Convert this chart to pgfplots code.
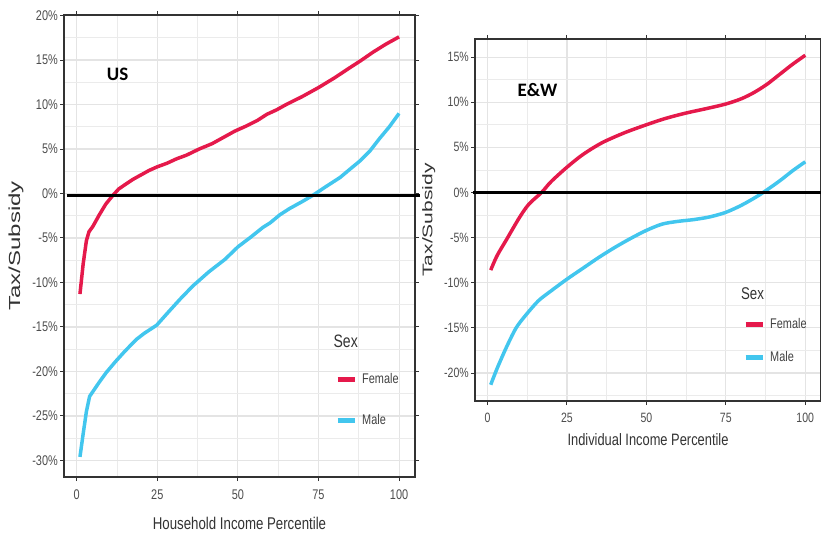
\documentclass[border=0pt]{standalone}
\usepackage{pgfplots}
\pgfplotsset{compat=1.18}
\usepackage{fontspec}
\setmainfont{Liberation Sans}[FakeStretch=0.78]
\newfontfamily\rotfont{Liberation Sans}[FakeStretch=1.5]
\newfontfamily\titfont{Carlito}
\definecolor{fem}{HTML}{E5194B}
\definecolor{mal}{HTML}{42C6EE}
\definecolor{gridc}{HTML}{E4E4E4}
\definecolor{tickc}{HTML}{4D4D4D}
\definecolor{framec}{HTML}{333333}

\pgfplotsset{
 panel/.style={
  scale only axis, anchor=south west, clip=false,
  axis line style={framec, line width=1.3pt},
  tick style={framec, line width=1pt},
  tick align=outside, major tick length=4pt, minor tick length=0pt,
  xmajorgrids, ymajorgrids, xminorgrids, yminorgrids,
  major grid style={gridc, line width=1.1pt},
  minor grid style={gridc!75, line width=0.7pt},
  xmin=-3.95, xmax=104.95, xtick={0,25,50,75,100}, minor xtick={12.5,37.5,62.5,87.5},
  /pgf/number format/assume math mode=true,
  ticklabel style={text=tickc, font=\fontsize{14}{16}\selectfont},
  yticklabel={\pgfmathprintnumber{\tick}\%},
  xticklabel style={inner sep=3pt, yshift=-6pt},
  yticklabel style={inner sep=2pt},
  legend image code/.code={\draw[#1, line width=5pt] (0pt,0pt) -- (17pt,0pt);},
  legend style={draw=none, fill=none, anchor=north west, inner sep=0pt,
     nodes={inner sep=0pt, text=black!75, font=\fontsize{14}{16}\selectfont}, column sep=5pt},
  legend cell align=left,
 }
}

\begin{document}
\begin{tikzpicture}
\path[use as bounding box] (0,0) rectangle (821pt,538pt);

% ---------------- US ----------------
\begin{axis}[panel, at={(64pt,61pt)}, width=351pt, height=462pt,
  ymin=-31.86, ymax=20.06, ytick={-30,-25,...,20}, minor ytick={-27.5,-22.5,...,17.5},
  xlabel={Household Income Percentile},
  xlabel style={at={(axis description cs:0.5,-0.0996)}, anchor=center, text=black!80, font=\fontsize{17}{18}\selectfont},
  ylabel={\rotfont Tax/Subsidy},
  ylabel style={at={(axis description cs:-0.137,0.5)}, anchor=center, text=black!80, font=\fontsize{16}{18}\selectfont},
  legend style={at={(axis description cs:0.772,0.2251)}, row sep=30pt}]
\addplot[fem, line width=3.5pt] coordinates {
(1,-11.3) (2,-7.9) (3,-5.3) (3.8,-4.3) (5,-3.7) (7,-2.4) (9,-1.2) (11,-0.3) (13,0.5) (15,1.0)
(17.5,1.6) (20,2.1) (22.5,2.6) (25,3.0) (28,3.4) (31,3.9) (34,4.3) (38,5.0) (42,5.6) (45.5,6.3)
(49,7.0) (52.7,7.6) (56,8.2) (59,8.9) (62,9.4) (65,10.0) (70,10.9) (75,11.9) (80,13.0) (85,14.2)
(88,14.9) (92,15.9) (96,16.8) (100,17.6)};
\addlegendentry{Female}
\addplot[mal, line width=3.5pt] coordinates {
(1,-29.6) (2,-27) (3,-24.5) (4,-22.8) (5.5,-22.0) (7,-21.2) (9.2,-20.1) (12,-18.9) (15,-17.7)
(18.5,-16.4) (21,-15.7) (24.8,-14.8) (28,-13.5) (32,-11.9) (36,-10.4) (41,-8.8) (46,-7.4)
(50,-6.0) (54,-4.9) (57.8,-3.8) (60,-3.3) (63,-2.4) (66,-1.7) (70,-0.9) (73.3,-0.2) (77,0.7)
(81.7,1.8) (85,2.8) (88,3.7) (91,4.8) (94,6.2) (97,7.5) (100,9.0)};
\addlegendentry{Male}
\addplot[black, line width=2.5pt, forget plot] coordinates {(-3.1,-0.22) (106.5,-0.22)};
\node[font=\titfont\bfseries\fontsize{19}{19}\selectfont] at (axis cs:12.7,13.4) {US};
\node[anchor=west, text=black!80, font=\fontsize{18}{18}\selectfont] at (axis cs:78.6,-16.6) {Sex};
\end{axis}

% ---------------- E&W ----------------
\begin{axis}[panel, at={(475pt,137pt)}, width=346pt, height=362pt,
  ymin=-23.1, ymax=17.0, ytick={-20,-15,...,15}, minor ytick={-22.5,-17.5,...,12.5},
  xlabel={Individual Income Percentile},
  xlabel style={at={(axis description cs:0.5,-0.1077)}, anchor=center, text=black!80, font=\fontsize{16.5}{18}\selectfont},
  ylabel={\rotfont Tax/Subsidy},
  ylabel style={at={(axis description cs:-0.134,0.5)}, anchor=center, text=black!80, font=\fontsize{14}{16}\selectfont},
  ticklabel style={font=\fontsize{13.5}{15}\selectfont},
  xticklabel style={yshift=1pt},
  legend style={at={(axis description cs:0.7746,0.2293)}, row sep=22pt}]
\addplot[fem, line width=3.5pt, smooth] coordinates {
(1,-8.6) (3,-7.0) (6,-5.2) (10,-2.8) (13,-1.3) (17,0.0) (20,1.2) (25,2.8) (30,4.2) (36,5.5)
(43,6.6) (50,7.5) (56,8.2) (62.5,8.8) (69,9.3) (75,9.8) (80,10.4) (84,11.1) (88,12.0) (92,13.1)
(96,14.2) (100,15.2)};
\addlegendentry{Female}
\addplot[mal, line width=3.5pt, smooth] coordinates {
(1,-21.3) (3,-19.5) (6,-17.1) (9,-15.0) (12,-13.6) (16,-12.0) (20,-10.9) (25,-9.6) (30,-8.4)
(35,-7.2) (40,-6.1) (45,-5.1) (50,-4.2) (55,-3.5) (60,-3.2) (65,-3.0) (70,-2.7) (75,-2.2)
(80,-1.4) (85,-0.4) (88,0.3) (92,1.3) (96,2.4) (100,3.4)};
\addlegendentry{Male}
\addplot[black, line width=2.5pt, forget plot] coordinates {(-4.5,0) (112,0)};
\node[font=\titfont\bfseries\fontsize{19}{19}\selectfont] at (axis cs:15.7,11.3) {E\&W};
\node[anchor=west, text=black!80, font=\fontsize{17}{17}\selectfont] at (axis cs:78.7,-11.2) {Sex};
\end{axis}
\end{tikzpicture}
\end{document}
